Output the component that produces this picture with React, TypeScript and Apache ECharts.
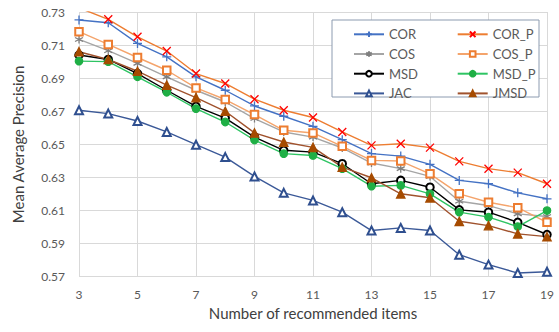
import React, { useEffect, useRef } from "react";
import * as echarts from "echarts";

const categories = ["3","4","5","6","7","8","9","10","11","12","13","14","15","16","17","18","19"];

const COR = [0.7252,0.7235,0.711,0.7029,0.6908,0.6827,0.6732,0.667,0.6609,0.6528,0.6444,0.6429,0.6379,0.6282,0.6262,0.6207,0.6171];
const COR_P = [0.7325,0.7256,0.715,0.7064,0.6928,0.6868,0.6773,0.6706,0.6662,0.6575,0.6494,0.6504,0.648,0.6397,0.6353,0.6329,0.6262];
const COS = [0.7134,0.7066,0.6989,0.6908,0.6827,0.6756,0.6656,0.6575,0.6544,0.6478,0.6387,0.6353,0.6306,0.6156,0.613,0.608,0.6064];
const COS_P = [0.7181,0.7104,0.7025,0.6948,0.6841,0.6771,0.668,0.6585,0.6569,0.6488,0.6403,0.6399,0.6322,0.6201,0.615,0.6117,0.6029];
const MSD = [0.704,0.7013,0.6928,0.6827,0.673,0.6659,0.6544,0.6464,0.6453,0.6383,0.6262,0.6282,0.6241,0.6104,0.609,0.6029,0.5955];
const MSD_P = [0.7003,0.7,0.6908,0.6815,0.6716,0.6635,0.6526,0.6444,0.6433,0.6353,0.6247,0.6252,0.6201,0.609,0.606,0.6003,0.61];
const JAC = [0.6706,0.6686,0.6641,0.6575,0.6498,0.6423,0.6306,0.6207,0.6161,0.609,0.5979,0.5995,0.5979,0.5833,0.5773,0.5722,0.573];
const JMSD = [0.706,0.7013,0.6942,0.6858,0.6783,0.67,0.6569,0.6514,0.6482,0.6362,0.6298,0.6201,0.6177,0.6035,0.6009,0.5959,0.5942];

const FONT = "Lato, 'Noto Sans', sans-serif";

const PLUS = "path://M5,0L5,10M0,5L10,5";
const CROSS = "path://M0,0L10,10M10,0L0,10";
const STAR = "path://M5,0L5,10M0.7,2.5L9.3,7.5M0.7,7.5L9.3,2.5";

function mk(name: string, data: number[], line: string, symbol: string, mcolor: string, size: number, stroke: boolean) {
  return {
    name,
    type: "line",
    data,
    symbol,
    symbolSize: size,
    showSymbol: true,
    lineStyle: { color: line, width: 1.4 },
    itemStyle: stroke
      ? { color: mcolor, borderColor: mcolor, borderWidth: 1.3 }
      : { color: mcolor, borderColor: mcolor, borderWidth: 1.2 },
    z: 2,
  };
}

export default function App() {
  const ref = useRef<HTMLDivElement>(null);
  useEffect(() => {
    const chart = echarts.init(ref.current!, undefined, { renderer: "svg" });
    const series = [
      mk("COR", COR, "#4472C4", PLUS, "#4472C4", 9, true),
      mk("COR_P", COR_P, "#ED7D31", CROSS, "#FF0000", 8, true),
      mk("COS", COS, "#A5A5A5", STAR, "#7F7F7F", 8, true),
      mk("COS_P", COS_P, "#F4A46C", "emptyRect", "#ED7D31", 7.5, false),
      mk("MSD", MSD, "#000000", "emptyCircle", "#000000", 7.5, false),
      mk("MSD_P", MSD_P, "#2EC463", "circle", "#1FAF45", 7.5, false),
      mk("JAC", JAC, "#3B5998", "emptyTriangle", "#2F4F8F", 8, false),
      mk("JMSD", JMSD, "#A0522D", "triangle", "#A64B00", 8.5, false),
    ];
    const legendCommon = {
      orient: "vertical",
      itemWidth: 30,
      itemHeight: 7,
      itemGap: 5.7,
      textStyle: { fontFamily: FONT, fontSize: 13, color: "#595959", lineHeight: 14 },
      selectedMode: false,
      z: 5,
    };
    chart.setOption({
      animation: false,
      backgroundColor: "#ffffff",
      grid: { left: 79, right: 12, top: 12, bottom: 55.3, containLabel: false },
      xAxis: {
        type: "category",
        data: categories,
        boundaryGap: false,
        name: "Number of recommended items",
        nameLocation: "middle",
        nameGap: 29,
        nameTextStyle: { fontFamily: FONT, fontSize: 15, color: "#404040" },
        axisLine: { show: false },
        axisTick: { show: false },
        axisLabel: { interval: 1, margin: 12, fontFamily: FONT, fontSize: 12, color: "#595959" },
        splitLine: { show: true, interval: 1, lineStyle: { color: "#D9D9D9", width: 1 } },
      },
      yAxis: {
        type: "value",
        min: 0.57,
        max: 0.73,
        interval: 0.02,
        name: "Mean Average Precision",
        nameLocation: "middle",
        nameGap: 54,
        nameTextStyle: { fontFamily: FONT, fontSize: 15, color: "#404040" },
        axisLine: { show: false },
        axisTick: { show: false },
        axisLabel: {
          margin: 14,
          fontFamily: FONT,
          fontSize: 12,
          color: "#595959",
          formatter: (v: number) => v.toFixed(2),
        },
        splitLine: { show: true, lineStyle: { color: "#D9D9D9", width: 1 } },
      },
      legend: [
        { ...legendCommon, left: 348, top: 22.3, data: ["COR", "COS", "MSD", "JAC"] },
        { ...legendCommon, left: 451.7, top: 22.3, data: ["COR_P", "COS_P", "MSD_P", "JMSD"] },
      ],
      graphic: [
        {
          type: "rect",
          shape: { x: 332, y: 20, width: 207, height: 77 },
          style: { fill: "#ffffff", stroke: "#8C9BB0", lineWidth: 1 },
          z: 3,
        },
      ],
      series,
    });
    return () => chart.dispose();
  }, []);
  return <div ref={ref} style={{ width: 559, height: 332, position: "absolute", left: 0, top: 0 }} />;
}
